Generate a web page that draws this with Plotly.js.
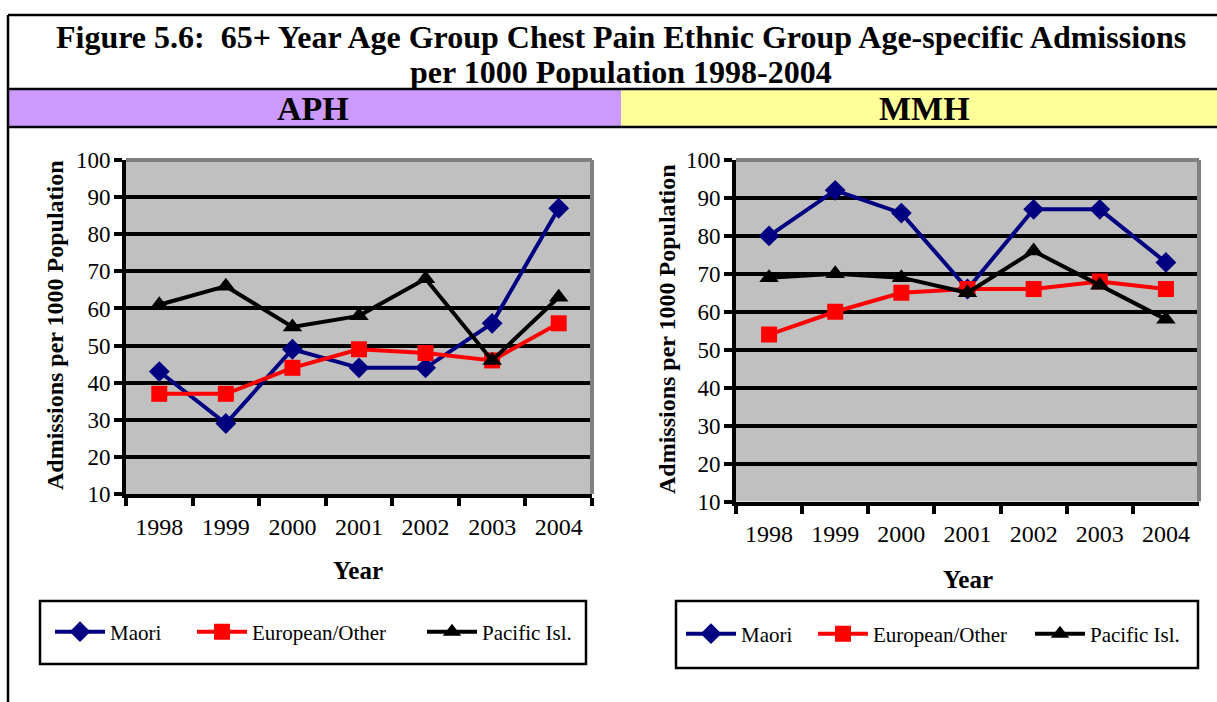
<!DOCTYPE html>
<html>
<head>
<meta charset="utf-8">
<script src="https://cdn.plot.ly/plotly-3.0.1.min.js"></script>
<style>
  html, body { margin: 0; padding: 0; background: #ffffff; }
  #chart { width: 1217px; height: 702px; }
</style>
</head>
<body>
<div id="chart"></div>
<script>
// ---- Data ----
const years = ['1998', '1999', '2000', '2001', '2002', '2003', '2004'];
const seriesNames = ['Maori', 'European/Other', 'Pacific Isl.'];

const aphMaori    = [43, 29, 49, 44, 44, 56, 87];
const aphEuropean = [37, 37, 44, 49, 48, 46, 56];
const aphPacific  = [61, 66, 55, 58, 68, 46, 63];

const mmhMaori    = [80, 92, 86, 66, 87, 87, 73];
const mmhEuropean = [54, 60, 65, 66, 66, 68, 66];
const mmhPacific  = [69, 70, 69, 65, 76, 67, 58];

const yTickVals = [10, 20, 30, 40, 50, 60, 70, 80, 90, 100];

const titleLine1 = 'Figure 5.6:  65+ Year Age Group Chest Pain Ethnic Group Age-specific Admissions';
const titleLine2 = 'per 1000 Population 1998-2004';
const panelNames = ['APH', 'MMH'];
const xTitle = 'Year';
const yTitle = 'Admissions per 1000 Population';

// ---- Styling ----
const W = 1217, H = 702;
const px = v => v / W;
const py = v => 1 - v / H;
const serif = 'Liberation Serif, Times New Roman, serif';
const colors = ['#000080', '#FF0000', '#000000'];
const symbols = ['diamond', 'square', 'triangle-up'];
const msizes = [16, 16, 17];

function makeTraces(vals, xa, ya, legs) {
  return vals.map((v, i) => ({
    type: 'scatter', mode: 'lines+markers',
    x: years, y: v, name: seriesNames[i],
    xaxis: xa, yaxis: ya, legend: legs[i],
    line: { color: colors[i], width: 4 },
    marker: { symbol: symbols[i], size: msizes[i], color: colors[i] },
    hoverinfo: 'x+y+name'
  }));
}

const data = [
  ...makeTraces([aphMaori, aphEuropean, aphPacific], 'x', 'y', ['legend', 'legend2', 'legend3']),
  ...makeTraces([mmhMaori, mmhEuropean, mmhPacific], 'x2', 'y2', ['legend4', 'legend5', 'legend6'])
];

function xAxis(domain, anchor) {
  return {
    domain: domain, anchor: anchor, type: 'category',
    categoryorder: 'array', categoryarray: years,
    range: [-0.5, 6.5], tickson: 'boundaries',
    ticks: 'outside', ticklen: 8, tickwidth: 3.5, tickcolor: '#000',
    showline: true, linecolor: '#000', linewidth: 4,
    showgrid: false, zeroline: false,
    ticklabelstandoff: 8,
    tickfont: { family: serif, size: 24, color: '#000' }
  };
}
function yAxis(domain, anchor) {
  return {
    domain: domain, anchor: anchor,
    range: [10, 100], tickvals: yTickVals,
    ticks: 'outside', ticklen: 8, tickwidth: 3.5, tickcolor: '#000',
    showline: true, linecolor: '#000', linewidth: 4,
    showgrid: true, gridcolor: '#000', gridwidth: 4, zeroline: false,
    ticklabelstandoff: -1,
    tickfont: { family: serif, size: 23, color: '#000' }
  };
}

// plot areas in pixels
const L = { x0: 126, x1: 592, y0: 160, y1: 494 };
const R = { x0: 736, x1: 1199, y0: 160, y1: 501.5 };

const shapes = [
  // header backgrounds
  { type: 'rect', xref: 'paper', yref: 'paper', x0: px(8), x1: px(621), y0: py(127), y1: py(89), fillcolor: '#CC99FF', line: { width: 0 }, layer: 'below' },
  { type: 'rect', xref: 'paper', yref: 'paper', x0: px(621), x1: px(1225), y0: py(127), y1: py(89), fillcolor: '#FFFF99', line: { width: 0 }, layer: 'below' },
  // table lines
  { type: 'line', xref: 'paper', yref: 'paper', x0: px(8), x1: px(1230), y0: py(15), y1: py(15), line: { color: '#000', width: 2.5 } },
  { type: 'line', xref: 'paper', yref: 'paper', x0: px(8), x1: px(1230), y0: py(89), y1: py(89), line: { color: '#000', width: 2.5 } },
  { type: 'line', xref: 'paper', yref: 'paper', x0: px(8), x1: px(1230), y0: py(127), y1: py(127), line: { color: '#000', width: 2.5 } },
  { type: 'line', xref: 'paper', yref: 'paper', x0: px(8), x1: px(8), y0: py(15), y1: py(710), line: { color: '#000', width: 2.5 } },
  // plot area gray borders (top & right)
  { type: 'line', xref: 'x domain', yref: 'y domain', x0: 0, x1: 1, y0: 1, y1: 1, line: { color: '#808080', width: 4 }, layer: 'above' },
  { type: 'line', xref: 'x domain', yref: 'y domain', x0: 1, x1: 1, y0: 0, y1: 1, line: { color: '#808080', width: 4 }, layer: 'above' },
  { type: 'line', xref: 'x2 domain', yref: 'y2 domain', x0: 0, x1: 1, y0: 1, y1: 1, line: { color: '#808080', width: 4 }, layer: 'above' },
  { type: 'line', xref: 'x2 domain', yref: 'y2 domain', x0: 1, x1: 1, y0: 0, y1: 1, line: { color: '#808080', width: 4 }, layer: 'above' },
  // legend boxes
  { type: 'rect', xref: 'paper', yref: 'paper', x0: px(40), x1: px(586), y0: py(664), y1: py(601), line: { color: '#000', width: 2.5 }, fillcolor: 'rgba(0,0,0,0)' },
  { type: 'rect', xref: 'paper', yref: 'paper', x0: px(676), x1: px(1198), y0: py(668), y1: py(601), line: { color: '#000', width: 2.5 }, fillcolor: 'rgba(0,0,0,0)' }
];

function ann(text, x, y, size, extra) {
  return Object.assign({
    text: text, xref: 'paper', yref: 'paper', x: px(x), y: py(y),
    xanchor: 'center', yanchor: 'middle', showarrow: false,
    font: { family: serif, size: size, color: '#000' }
  }, extra || {});
}

const annotations = [
  ann('<b>' + titleLine1 + '</b>', 621, 37, 32),
  ann('<b>' + titleLine2 + '</b>', 621, 72, 32),
  ann('<b>' + panelNames[0] + '</b>', 313, 108, 34),
  ann('<b>' + panelNames[1] + '</b>', 924, 108, 34),
  ann('<b>' + xTitle + '</b>', 358, 570, 25),
  ann('<b>' + xTitle + '</b>', 968, 579, 25),
  ann('<b>' + yTitle + '</b>', 55, 325, 24, { textangle: -90 }),
  ann('<b>' + yTitle + '</b>', 667, 329, 24, { textangle: -90 })
];

const legendBase = {
  orientation: 'h', xref: 'paper', yref: 'paper',
  xanchor: 'left', yanchor: 'middle',
  bgcolor: 'rgba(0,0,0,0)', borderwidth: 0,
  font: { family: serif, size: 21, color: '#000' },
  itemwidth: 50
};
function leg(x, y) { return Object.assign({}, legendBase, { x: px(x), y: py(y) }); }

const layout = {
  width: W, height: H, autosize: false,
  margin: { l: 0, r: 0, t: 0, b: 0 },
  paper_bgcolor: '#ffffff', plot_bgcolor: '#C0C0C0',
  showlegend: true,
  xaxis: xAxis([px(L.x0), px(L.x1)], 'y'),
  yaxis: yAxis([py(L.y1), py(L.y0)], 'x'),
  xaxis2: xAxis([px(R.x0), px(R.x1)], 'y2'),
  yaxis2: yAxis([py(R.y1), py(R.y0)], 'x2'),
  legend: leg(50, 632),
  legend2: leg(192, 632),
  legend3: leg(422, 632),
  legend4: leg(681, 634),
  legend5: leg(813, 634),
  legend6: leg(1030, 634),
  shapes: shapes,
  annotations: annotations
};

Plotly.newPlot('chart', data, layout, { displayModeBar: false });
</script>
</body>
</html>
